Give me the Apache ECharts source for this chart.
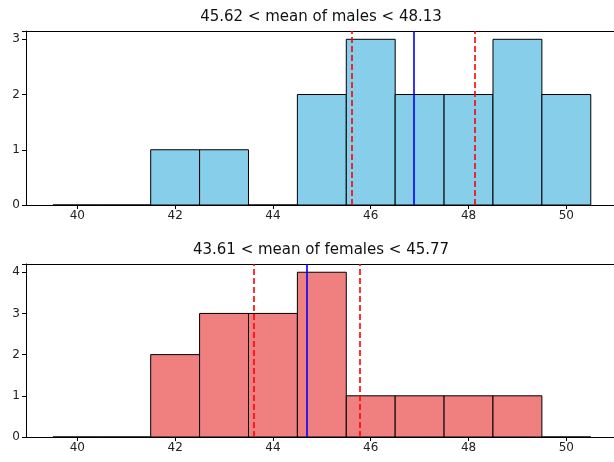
<!DOCTYPE html>
<html>
<head>
<meta charset="utf-8">
<script src="https://cdn.jsdelivr.net/npm/echarts@6/dist/echarts.min.js"></script>
<style>html,body{margin:0;padding:0;background:#fff;}#c{width:614px;height:462px;}</style>
</head>
<body>
<div id="c"></div>
<script>
const binCenters = [40, 41, 42, 43, 44, 45, 46, 47, 48, 49, 50];
const maleCounts = [0, 0, 1, 1, 0, 2, 3, 2, 2, 3, 2];
const femaleCounts = [0, 0, 2, 3, 3, 4, 1, 1, 1, 1, 0];
const maleCI = [45.62, 48.13];
const maleMean = 46.87;
const femaleCI = [43.61, 45.77];
const femaleMean = 44.69;
const xTicks = [40, 42, 44, 46, 48, 50];
const maleTitle = '45.62 < mean of males < 48.13';
const femaleTitle = '43.61 < mean of females < 45.77';

const FONT = '"DejaVu Sans", sans-serif';
const chart = echarts.init(document.getElementById('c'), null, {renderer: 'canvas'});

function hist(counts, color, gi) {
  return {
    type: 'custom',
    xAxisIndex: gi * 2, yAxisIndex: gi,
    data: binCenters.map((c, i) => [c, counts[i]]),
    renderItem: function (params, api) {
      const c = api.value(0), v = api.value(1);
      const p0 = api.coord([c - 0.5, 0]);
      const p1 = api.coord([c + 0.5, v]);
      return {
        type: 'rect',
        shape: {x: p0[0], y: p1[1], width: p1[0] - p0[0], height: p0[1] - p1[1]},
        style: {fill: color, stroke: '#000', lineWidth: 1}
      };
    },
    z: 2
  };
}
function lines(ci, mean, gi) {
  return {
    type: 'line', xAxisIndex: gi * 2, yAxisIndex: gi, data: [], z: 5,
    markLine: {
      silent: true, symbol: ['none', 'none'], label: {show: false}, animation: false,
      data: [
        {xAxis: ci[0], lineStyle: {color: '#ff0000', type: [6, 3], width: 1.6}},
        {xAxis: ci[1], lineStyle: {color: '#ff0000', type: [6, 3], width: 1.6}},
        {xAxis: mean, lineStyle: {color: '#0000ff', type: 'solid', width: 1.6}}
      ]
    }
  };
}
const XMIN = 38.95, XMAX = 50.975;
function xAxis(gi) {
  return {
    type: 'value', gridIndex: gi, min: XMIN, max: XMAX, position: 'bottom',
    axisLine: {show: true, onZero: false, lineStyle: {color: '#000', width: 1}},
    axisTick: {show: true, length: 4, customValues: xTicks, lineStyle: {color: '#000'}},
    axisLabel: {customValues: xTicks, color: '#222', fontSize: 12, fontFamily: FONT, margin: 5},
    splitLine: {show: false}
  };
}
function xTop(gi) {
  return {
    type: 'value', gridIndex: gi, min: XMIN, max: XMAX, position: 'top',
    axisLine: {show: true, onZero: false, lineStyle: {color: '#000', width: 1}},
    axisTick: {show: false}, axisLabel: {show: false}, splitLine: {show: false}
  };
}
function yAxis(gi, max) {
  return {
    type: 'value', gridIndex: gi, min: 0, max: max, interval: 1,
    axisLine: {show: true, lineStyle: {color: '#000', width: 1}},
    axisTick: {show: true, length: 4, lineStyle: {color: '#000'}},
    axisLabel: {color: '#222', fontSize: 12, fontFamily: FONT, margin: 6,
      formatter: v => (Math.abs(v - Math.round(v)) < 1e-9 ? String(Math.round(v)) : '')},
    splitLine: {show: false}
  };
}

chart.setOption({
  animation: false,
  backgroundColor: '#fff',
  grid: [
    {left: 26, top: 31, width: 588, height: 174},
    {left: 26, top: 264, width: 588, height: 173}
  ],
  graphic: [
    {type: 'text', x: 321, y: 17.5, style: {text: maleTitle, font: '15px ' + FONT, fill: '#111', textAlign: 'center', textVerticalAlign: 'middle'}},
    {type: 'text', x: 321, y: 250, style: {text: femaleTitle, font: '15px ' + FONT, fill: '#111', textAlign: 'center', textVerticalAlign: 'middle'}}
  ],
  xAxis: [xAxis(0), xTop(0), xAxis(1), xTop(1)],
  yAxis: [yAxis(0, 3.15), yAxis(1, 4.2)],
  series: [
    hist(maleCounts, '#87CEEB', 0),
    lines(maleCI, maleMean, 0),
    hist(femaleCounts, '#F08080', 1),
    lines(femaleCI, femaleMean, 1)
  ]
});
</script>
</body>
</html>
